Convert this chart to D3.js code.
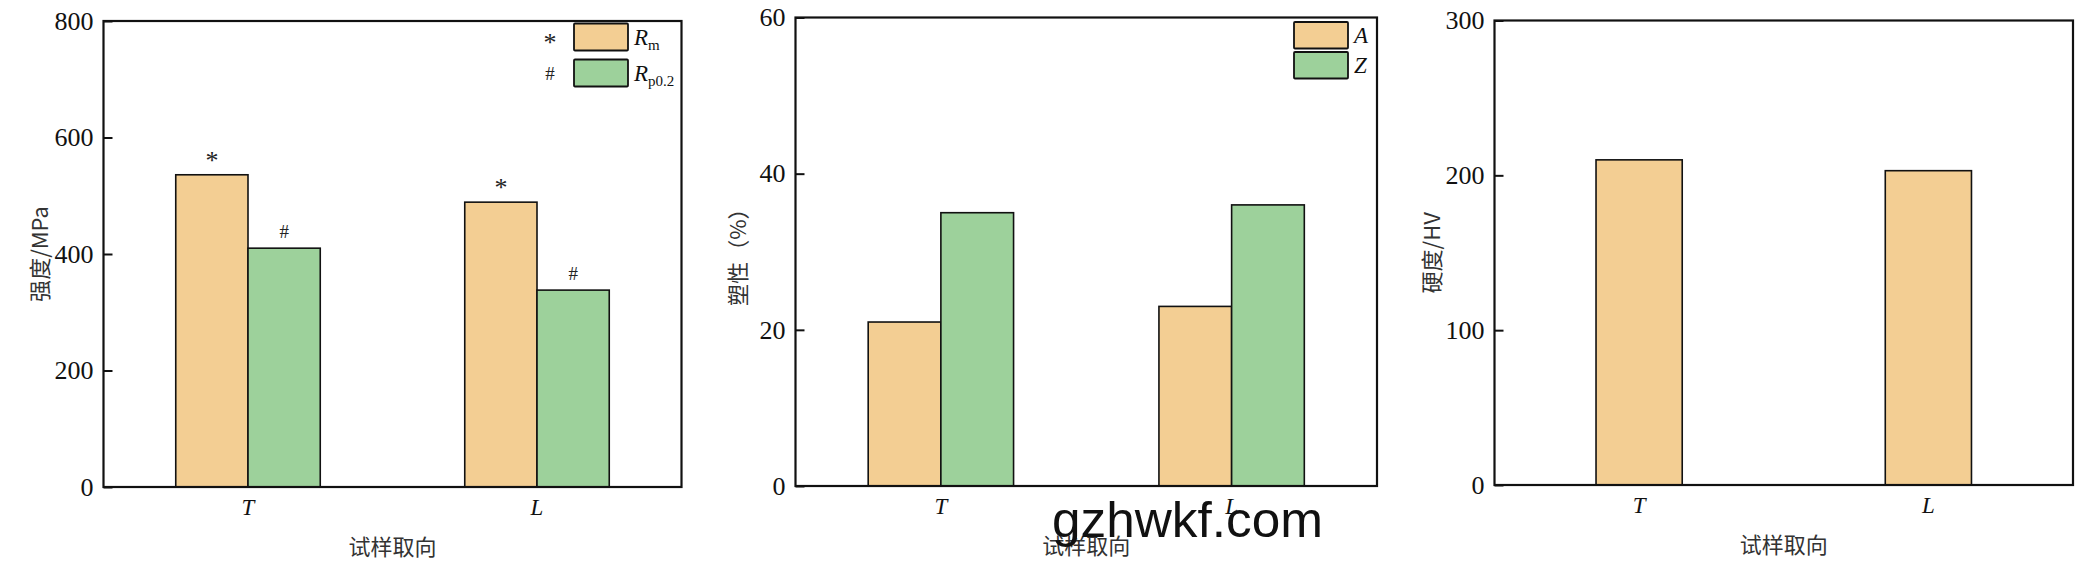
<!DOCTYPE html>
<html>
<head>
<meta charset="utf-8">
<script src="https://cdn.jsdelivr.net/npm/d3@7"></script>
<style>
  html, body { margin: 0; padding: 0; background: #fff; }
  svg { display: block; }
</style>
</head>
<body>
<svg id="chart" width="2098" height="568"></svg>
<script>
// ---------------- data ----------------
const categories = ["T", "L"];
const xTitle = "试样取向";

const strengthKeys = ["Rm", "Rp0.2"];
const strengthRm = [536, 489];
const strengthRp = [410, 338];
const strengthMarks = ["*", "#"];
const strengthTicks = [0, 200, 400, 600, 800];

const plasticityKeys = ["A", "Z"];
const plasticityA = [21, 23];
const plasticityZ = [35, 36];
const plasticityTicks = [0, 20, 40, 60];

const hardnessKeys = ["HV"];
const hardnessHV = [210, 203];
const hardnessTicks = [0, 100, 200, 300];

const colors = ["#F3CE93", "#9DD19B"];

// ---------------- drawing ----------------
const svg = d3.select("#chart");
const SERIF = "'Liberation Serif', 'Times New Roman', serif";
const CJK = "'Noto Sans CJK SC', sans-serif";

function panel(cfg) {
  const { left, right, top, bottom, ticks, series, keys, pad, yTitle, yTitleX, legend, marks } = cfg;
  const g = svg.append("g");
  const y = d3.scaleLinear().domain([ticks[0], ticks[ticks.length - 1]]).range([bottom, top]);
  const x0 = d3.scaleBand().domain(categories).range([left, right])
    .paddingInner(pad).paddingOuter(pad / 2);
  const x1 = d3.scaleBand().domain(keys).range([0, x0.bandwidth()]);

  // bars
  categories.forEach((c, ci) => {
    keys.forEach((k, ki) => {
      const v = series[ki][ci];
      g.append("rect")
        .attr("x", x0(c) + x1(k))
        .attr("y", y(v))
        .attr("width", x1.bandwidth())
        .attr("height", y(0) - y(v))
        .attr("fill", colors[ki])
        .attr("stroke", "#111")
        .attr("stroke-width", 1.6);
      if (marks) {
        const isStar = marks[ki] === "*";
        g.append("text")
          .attr("x", x0(c) + x1(k) + x1.bandwidth() / 2)
          .attr("y", y(v) - (isStar ? 6 : 10))
          .attr("text-anchor", "middle")
          .attr("font-family", SERIF)
          .attr("font-size", isStar ? 26 : 19)
          .attr("fill", "#222")
          .text(marks[ki]);
      }
    });
  });

  // y axis with inward ticks
  const yAxis = d3.axisRight(y).tickValues(ticks).tickSize(9).tickFormat("");
  const ya = g.append("g").attr("transform", `translate(${left},0)`).call(yAxis);
  ya.select(".domain").remove();
  ya.selectAll(".tick line").attr("stroke", "#111").attr("stroke-width", 2);

  // tick labels
  const yLab = d3.axisLeft(y).tickValues(ticks).tickSize(0).tickPadding(10);
  const yl = g.append("g").attr("transform", `translate(${left},0)`).call(yLab);
  yl.select(".domain").remove();
  yl.selectAll(".tick text")
    .attr("font-family", SERIF).attr("font-size", 26).attr("fill", "#111");

  // x category labels
  const xLab = d3.axisBottom(x0).tickSize(0).tickPadding(12);
  const xl = g.append("g").attr("transform", `translate(0,${bottom})`).call(xLab);
  xl.select(".domain").remove();
  xl.selectAll(".tick")
    .attr("transform", d => `translate(${x0(d) + x0.bandwidth() / 2},0)`);
  xl.selectAll(".tick text")
    .attr("font-family", SERIF).attr("font-size", 23).attr("font-style", "italic").attr("fill", "#111");

  // frame
  g.append("rect")
    .attr("x", left).attr("y", top)
    .attr("width", right - left).attr("height", bottom - top)
    .attr("fill", "none").attr("stroke", "#111").attr("stroke-width", 2.2);

  // titles
  g.append("text")
    .attr("x", (left + right) / 2).attr("y", bottom + 68)
    .attr("text-anchor", "middle")
    .attr("font-family", CJK).attr("font-size", 22).attr("fill", "#333")
    .text(xTitle);

  g.append("text")
    .attr("transform", `translate(${yTitleX},${(top + bottom) / 2}) rotate(-90)`)
    .attr("text-anchor", "middle").attr("dominant-baseline", "central")
    .attr("font-family", CJK).attr("font-size", 22).attr("fill", "#333")
    .text(yTitle);

  // legend
  if (legend) {
    legend.items.forEach((it, i) => {
      const ly = legend.y + i * legend.dy;
      g.append("rect")
        .attr("x", legend.x).attr("y", ly)
        .attr("width", legend.w).attr("height", legend.h)
        .attr("fill", colors[i]).attr("stroke", "#111").attr("stroke-width", 1.8)
        .attr("rx", 1);
      const t = g.append("text")
        .attr("x", legend.x + legend.w + 6)
        .attr("y", ly + legend.h / 2 + 8)
        .attr("font-family", SERIF).attr("font-size", 23).attr("fill", "#111");
      t.append("tspan").attr("font-style", "italic").text(it.main);
      if (it.sub) {
        t.append("tspan").attr("font-size", 15).attr("dy", 5).text(it.sub);
      }
      if (legend.marks) {
        const isStar = legend.marks[i] === "*";
        g.append("text")
          .attr("x", legend.x - 24).attr("y", ly + legend.h / 2 + (isStar ? 14 : 7))
          .attr("text-anchor", "middle")
          .attr("font-family", SERIF)
          .attr("font-size", isStar ? 26 : 19)
          .attr("fill", "#222")
          .text(legend.marks[i]);
      }
    });
  }
}

panel({
  left: 103.5, right: 681.5, top: 21, bottom: 487,
  ticks: strengthTicks, series: [strengthRm, strengthRp], keys: strengthKeys,
  pad: 0.5, yTitle: "强度/MPa", yTitleX: 38, marks: strengthMarks,
  legend: { x: 574, y: 23.5, w: 54, h: 27, dy: 36, marks: strengthMarks,
    items: [{ main: "R", sub: "m" }, { main: "R", sub: "p0.2" }] }
});

panel({
  left: 795.5, right: 1377, top: 17.5, bottom: 486,
  ticks: plasticityTicks, series: [plasticityA, plasticityZ], keys: plasticityKeys,
  pad: 0.5, yTitle: "塑性（%）", yTitleX: 736,
  legend: { x: 1294, y: 22, w: 54, h: 26.5, dy: 30,
    items: [{ main: "A" }, { main: "Z" }] }
});

panel({
  left: 1494.5, right: 2073, top: 20.5, bottom: 485,
  ticks: hardnessTicks, series: [hardnessHV], keys: hardnessKeys,
  pad: 0.702, yTitle: "硬度/HV", yTitleX: 1430
});

// watermark
svg.append("text")
  .attr("x", 1052).attr("y", 537)
  .attr("font-family", "'Liberation Sans', Arial, sans-serif")
  .attr("font-size", 50)
  .attr("textLength", 271).attr("lengthAdjust", "spacingAndGlyphs")
  .attr("fill", "#111")
  .text("gzhwkf.com");
</script>
</body>
</html>
